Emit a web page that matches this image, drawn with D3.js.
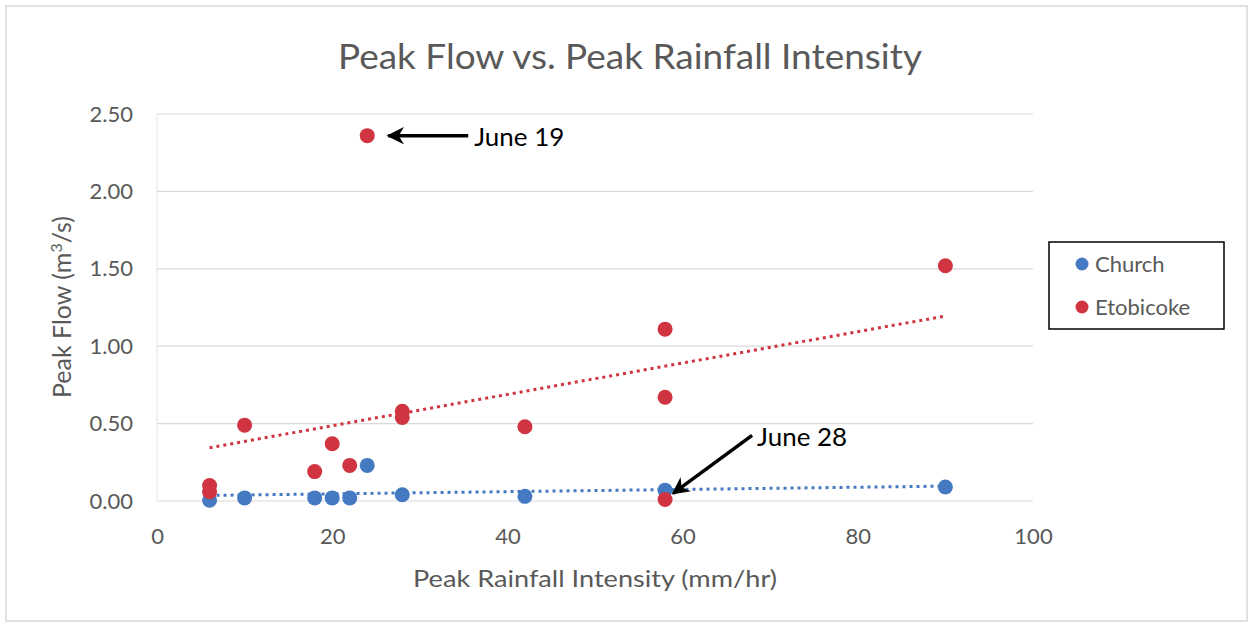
<!DOCTYPE html>
<html>
<head>
<meta charset="utf-8">
<script src="https://cdn.jsdelivr.net/npm/d3@7"></script>
<style>
  body { margin: 0; background: #fff; }
  text { font-family: Lato, "Open Sans", sans-serif; }
</style>
</head>
<body>
<div id="chart"></div>
<script>
// values
var churchX = [6, 10, 18, 20, 22, 24, 28, 42, 58, 90];
var churchY = [0.005, 0.02, 0.02, 0.02, 0.02, 0.23, 0.04, 0.03, 0.07, 0.09];
var etobX = [6, 6, 10, 18, 20, 22, 24, 28, 28, 42, 58, 58, 58, 90];
var etobY = [0.06, 0.10, 0.49, 0.19, 0.37, 0.23, 2.36, 0.54, 0.58, 0.48, 1.11, 0.67, 0.01, 1.52];
var xTicks = [0, 20, 40, 60, 80, 100];
var yTicks = [0, 0.5, 1, 1.5, 2, 2.5];
var notes = [
  {label: "June 19", x: 24, y: 2.36, side: "left"},
  {label: "June 28", x: 58, y: 0.01, side: "up"}
];

var width = 1251, height = 628;
var blue = "#4579c2", red = "#cf3440", grey = "#595959";

var svg = d3.select("#chart").append("svg")
    .attr("width", width)
    .attr("height", height);

svg.append("rect")
    .attr("x", 6).attr("y", 6)
    .attr("width", 1241).attr("height", 615)
    .attr("fill", "#fff")
    .attr("stroke", "#d9d9d9")
    .attr("stroke-width", 1.5);

var xScale = d3.scaleLinear().domain([0, 100]).range([157, 1033]);
var yScale = d3.scaleLinear().domain([0, 2.5]).range([501, 114]);

// gridlines
svg.append("g")
    .selectAll("line")
    .data(yTicks)
    .join("line")
    .attr("x1", xScale(0)).attr("x2", xScale(100))
    .attr("y1", function(d){ return yScale(d); })
    .attr("y2", function(d){ return yScale(d); })
    .attr("stroke", "#d9d9d9")
    .attr("stroke-width", 1.2);

svg.append("line")
    .attr("x1", xScale(0)).attr("x2", xScale(0))
    .attr("y1", yScale(0)).attr("y2", yScale(2.5))
    .attr("stroke", "#e4e4e4");

var x_axis = d3.axisBottom(xScale).tickValues(xTicks).tickSize(0).tickPadding(0);
var y_axis = d3.axisLeft(yScale).tickValues(yTicks).tickSize(0).tickPadding(0)
    .tickFormat(d3.format(".2f"));

var gx = svg.append("g")
    .attr("transform", "translate(0," + (yScale(0) + 36) + ")")
    .call(x_axis);
gx.select(".domain").remove();
gx.selectAll("text").attr("font-size", 22).attr("fill", grey)
    .attr("font-family", "Lato, sans-serif").attr("dy", "0.32em");

var gy = svg.append("g")
    .attr("transform", "translate(133,0)")
    .call(y_axis);
gy.select(".domain").remove();
gy.selectAll("text").attr("font-size", 22).attr("fill", grey)
    .attr("font-family", "Lato, sans-serif");

// title and axis titles
svg.append("text")
    .attr("x", 630).attr("y", 69)
    .attr("text-anchor", "middle")
    .attr("font-size", 34)
    .attr("textLength", 584)
    .attr("lengthAdjust", "spacingAndGlyphs")
    .attr("fill", grey)
    .text("Peak Flow vs. Peak Rainfall Intensity");

svg.append("text")
    .attr("x", 595).attr("y", 587)
    .attr("text-anchor", "middle")
    .attr("font-size", 24)
    .attr("textLength", 364)
    .attr("lengthAdjust", "spacingAndGlyphs")
    .attr("fill", grey)
    .text("Peak Rainfall Intensity (mm/hr)");

var yt = svg.append("text")
    .attr("transform", "translate(71,307) rotate(-90)")
    .attr("text-anchor", "middle")
    .attr("font-size", 25)
    .attr("fill", grey);
yt.append("tspan").text("Peak Flow (m");
yt.append("tspan").attr("font-size", 16).attr("dy", -9).text("3");
yt.append("tspan").attr("dy", 9).text("/s)");

// trendlines (least squares from the data)
function fit(xs, ys) {
  var mx = d3.mean(xs), my = d3.mean(ys);
  var sxy = d3.sum(xs, function(x, i){ return (x - mx) * (ys[i] - my); });
  var sxx = d3.sum(xs, function(x){ return (x - mx) * (x - mx); });
  var b = sxy / sxx;
  return {b: b, a: my - b * mx, x0: d3.min(xs), x1: d3.max(xs)};
}
var line = d3.line()
    .x(function(d){ return xScale(d[0]); })
    .y(function(d){ return yScale(d[1]); });

[[churchX, churchY, blue], [etobX, etobY, red]].forEach(function(s){
  var f = fit(s[0], s[1]);
  svg.append("path")
     .attr("d", line([[f.x0, f.a + f.b * f.x0], [f.x1, f.a + f.b * f.x1]]))
     .attr("fill", "none")
     .attr("stroke", s[2])
     .attr("stroke-width", 3)
     .attr("stroke-dasharray", "3,4");
});

// points
function drawPoints(xs, ys, color) {
  svg.append("g")
     .selectAll("circle")
     .data(xs.map(function(x, i){ return [x, ys[i]]; }))
     .join("circle")
     .attr("cx", function(d){ return xScale(d[0]); })
     .attr("cy", function(d){ return yScale(d[1]); })
     .attr("r", 7.5)
     .attr("fill", color);
}
drawPoints(churchX, churchY, blue);
drawPoints(etobX, etobY, red);

// annotations
var defs = svg.append("defs");
defs.append("marker")
    .attr("id", "head")
    .attr("viewBox", "0 0 10 10")
    .attr("refX", 9).attr("refY", 5)
    .attr("markerWidth", 5).attr("markerHeight", 5)
    .attr("markerUnits", "strokeWidth")
    .attr("orient", "auto")
    .append("path")
    .attr("d", "M0,0 L10,5 L0,10 L3,5 Z")
    .attr("fill", "#000");

notes.forEach(function(n){
  var px = xScale(n.x), py = yScale(n.y);
  var sx, sy, tx, ty, ex, ey;
  if (n.side === "left") {
    ex = px + 21; ey = py;
    sx = px + 101; sy = py;
    tx = sx + 6; ty = py + 10;
  } else {
    ex = px + 8; ey = py - 6;
    sx = px + 87; sy = py - 64;
    tx = sx + 5; ty = sy + 11;
  }
  svg.append("line")
     .attr("x1", sx).attr("y1", sy)
     .attr("x2", ex).attr("y2", ey)
     .attr("stroke", "#000")
     .attr("stroke-width", 3.5)
     .attr("marker-end", "url(#head)");
  svg.append("text")
     .attr("x", tx).attr("y", ty)
     .attr("font-size", 25)
     .attr("textLength", 90)
     .attr("lengthAdjust", "spacingAndGlyphs")
     .attr("fill", "#000")
     .text(n.label);
});

// legend
var legend = svg.append("g");
legend.append("rect")
    .attr("x", 1049).attr("y", 242)
    .attr("width", 175).attr("height", 87)
    .attr("fill", "#fff")
    .attr("stroke", "#000")
    .attr("stroke-width", 1.5);
[["Church", blue], ["Etobicoke", red]].forEach(function(d, i){
  var cy = 264 + i * 43;
  legend.append("circle").attr("cx", 1082).attr("cy", cy).attr("r", 6.5).attr("fill", d[1]);
  legend.append("text")
      .attr("x", 1095).attr("y", cy + 8)
      .attr("font-size", 22)
      .attr("fill", grey)
      .text(d[0]);
});
</script>
</body>
</html>
